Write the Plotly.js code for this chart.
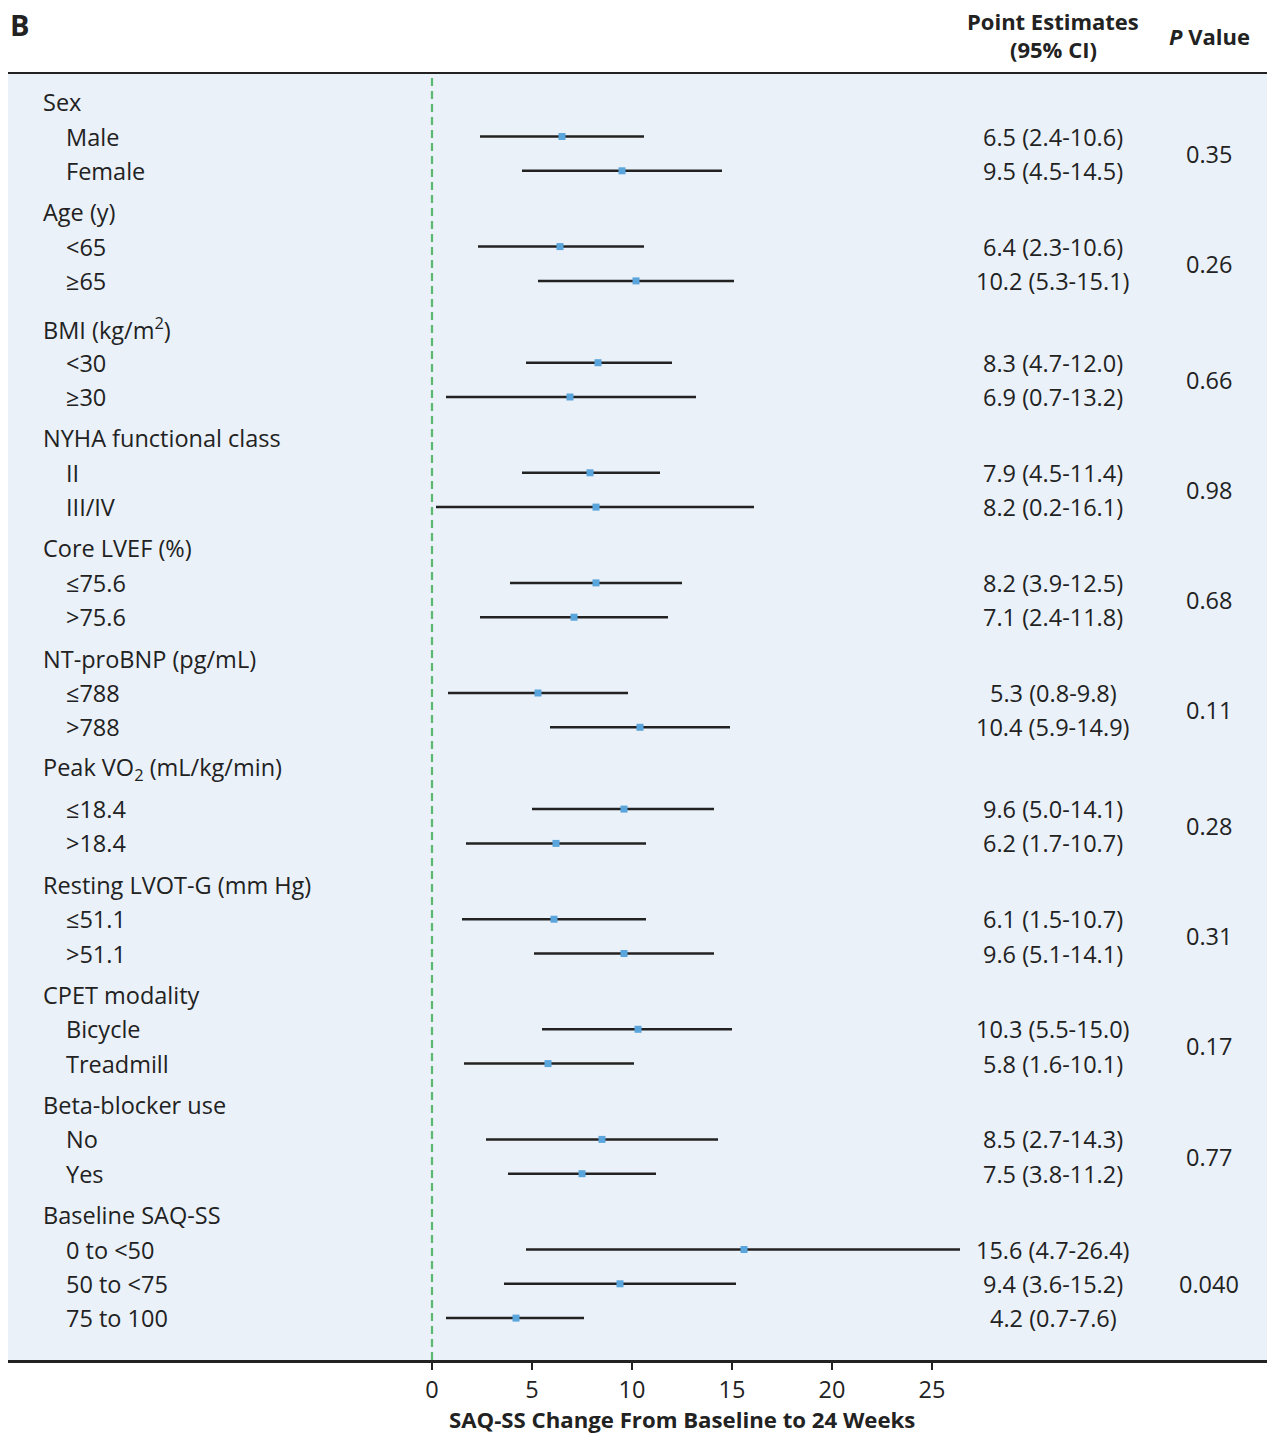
<!DOCTYPE html>
<html>
<head>
<meta charset="utf-8">
<script src="https://cdn.plot.ly/plotly-3.0.1.min.js"></script>
<style>html,body{margin:0;padding:0;background:#fff;}#chart{width:1267px;height:1436px;}</style>
</head>
<body>
<div id="chart"></div>
<script>
// ---- data ----
const groups = ["Sex", "Age (y)", "BMI (kg/m<sup>2</sup>)", "NYHA functional class", "Core LVEF (%)",
  "NT-proBNP (pg/mL)", "Peak VO<sub>2</sub> (mL/kg/min)", "Resting LVOT-G (mm Hg)", "CPET modality",
  "Beta-blocker use", "Baseline SAQ-SS"];
const subgroups = [
  ["Male", "Female"],
  ["<65", "≥65"],
  ["<30", "≥30"],
  ["II", "III/IV"],
  ["≤75.6", ">75.6"],
  ["≤788", ">788"],
  ["≤18.4", ">18.4"],
  ["≤51.1", ">51.1"],
  ["Bicycle", "Treadmill"],
  ["No", "Yes"],
  ["0 to <50", "50 to <75", "75 to 100"]
];
const estimates = [[6.5, 9.5], [6.4, 10.2], [8.3, 6.9], [7.9, 8.2], [8.2, 7.1], [5.3, 10.4], [9.6, 6.2], [6.1, 9.6], [10.3, 5.8], [8.5, 7.5], [15.6, 9.4, 4.2]];
const lower =     [[2.4, 4.5], [2.3, 5.3], [4.7, 0.7], [4.5, 0.2], [3.9, 2.4], [0.8, 5.9], [5.0, 1.7], [1.5, 5.1], [5.5, 1.6], [2.7, 3.8], [4.7, 3.6, 0.7]];
const upper =     [[10.6, 14.5], [10.6, 15.1], [12.0, 13.2], [11.4, 16.1], [12.5, 11.8], [9.8, 14.9], [14.1, 10.7], [10.7, 14.1], [15.0, 10.1], [14.3, 11.2], [26.4, 15.2, 7.6]];
const pValues = ["0.35", "0.26", "0.66", "0.98", "0.68", "0.11", "0.28", "0.31", "0.17", "0.77", "0.040"];
const xTicks = [0, 5, 10, 15, 20, 25];

// ---- layout helpers (row placement in pixel-like units, top-down) ----
const padBeforeHeader = [0, 0, 6, 0, 0, 0, 0, 0, 0, 0, 0];
const padAfterHeader  = [0, 0, 0, 0, 0, 0, 6, 0, 0, 0, 0];
const font = "'Open Sans', sans-serif";
const ink = "#222222";
const FS = 23.5, FW = 500;
const X_HEADER = -19.55, X_SUB = -18.4, X_EST = 31.05, X_P = 38.85;
const PLOT_TOP = 74, PLOT_BOTTOM = 1360;
const toPaper = py => (PLOT_BOTTOM - py) / (PLOT_BOTTOM - PLOT_TOP);
const txtFont = {family: font, size: FS, color: ink, weight: FW};

let y = 102;
const annotations = [];
const lineX = [], lineY = [], ptX = [], ptY = [];
groups.forEach((g, gi) => {
  y += padBeforeHeader[gi];
  annotations.push({x: X_HEADER, y: y, xref: 'x', yref: 'y', text: g, showarrow: false, xanchor: 'left', yanchor: 'middle', font: txtFont});
  y += 34.5 + padAfterHeader[gi];
  const rowYs = [];
  subgroups[gi].forEach((s, si) => {
    rowYs.push(y);
    annotations.push({x: X_SUB, y: y, xref: 'x', yref: 'y', text: s, showarrow: false, xanchor: 'left', yanchor: 'middle', font: txtFont});
    const e = estimates[gi][si], lo = lower[gi][si], hi = upper[gi][si];
    annotations.push({x: X_EST, y: y, xref: 'x', yref: 'y',
      text: e.toFixed(1) + " (" + lo.toFixed(1) + "-" + hi.toFixed(1) + ")", showarrow: false, xanchor: 'center', yanchor: 'middle', font: txtFont});
    lineX.push(lo, hi, null); lineY.push(y, y, null);
    ptX.push(e); ptY.push(y);
    y += 34.3;
  });
  const midY = (rowYs[0] + rowYs[rowYs.length - 1]) / 2;
  annotations.push({x: X_P, y: midY, xref: 'x', yref: 'y', text: pValues[gi], showarrow: false, xanchor: 'center', yanchor: 'middle', font: txtFont});
  y += 7;
});

// header texts (outside the plot area -> paper coordinates)
const hdrFont = {family: font, size: 22, color: ink};
annotations.push({x: X_EST, y: toPaper(21), xref: 'x', yref: 'paper', text: "<b>Point Estimates</b>", showarrow: false, xanchor: 'center', yanchor: 'middle', font: hdrFont});
annotations.push({x: X_EST, y: toPaper(49), xref: 'x', yref: 'paper', text: "<b>(95% CI)</b>", showarrow: false, xanchor: 'center', yanchor: 'middle', font: hdrFont});
annotations.push({x: X_P, y: toPaper(36), xref: 'x', yref: 'paper', text: "<b><i>P</i> Value</b>", showarrow: false, xanchor: 'center', yanchor: 'middle', font: hdrFont});
annotations.push({x: 0, y: toPaper(25), xref: 'paper', yref: 'paper', text: "<b>B</b>", showarrow: false, xanchor: 'left', yanchor: 'middle', font: {family: font, size: 29, color: ink}});
annotations.push({x: 12.5, y: toPaper(1420), xref: 'x', yref: 'paper', text: "<b>SAQ-SS Change From Baseline to 24 Weeks</b>", showarrow: false, xanchor: 'center', yanchor: 'middle', font: {family: font, size: 22.2, color: ink}});

const traces = [
  {type: 'scatter', mode: 'lines', x: lineX, y: lineY, line: {color: ink, width: 2.5}, hoverinfo: 'skip', showlegend: false, connectgaps: false},
  {type: 'scatter', mode: 'markers', x: ptX, y: ptY, marker: {symbol: 'square', size: 7, color: '#5aa5dc'}, showlegend: false}
];

const layout = {
  width: 1267, height: 1436,
  margin: {l: 8, r: 0, t: PLOT_TOP, b: 1436 - PLOT_BOTTOM},
  paper_bgcolor: '#ffffff',
  plot_bgcolor: '#eaf1f9',
  showlegend: false,
  xaxis: {range: [-21.2, 41.75], tickvals: xTicks, ticktext: xTicks.map(String), showgrid: false, zeroline: false,
    showline: true, mirror: true, linecolor: ink, linewidth: 2.5, ticks: 'outside', ticklen: 7, tickwidth: 2, tickcolor: ink,
    tickfont: {family: font, size: FS, color: ink, weight: FW}, fixedrange: true},
  yaxis: {range: [PLOT_BOTTOM, PLOT_TOP], visible: false, showgrid: false, zeroline: false, fixedrange: true},
  shapes: [
    {type: 'line', xref: 'x', yref: 'paper', x0: 0, x1: 0, y0: 0, y1: 1, line: {color: '#5cb870', width: 2.2, dash: '8px,5px'}, layer: 'below'}
  ],
  annotations: annotations
};

Plotly.newPlot('chart', traces, layout, {displayModeBar: false, staticPlot: true});
</script>
</body>
</html>
